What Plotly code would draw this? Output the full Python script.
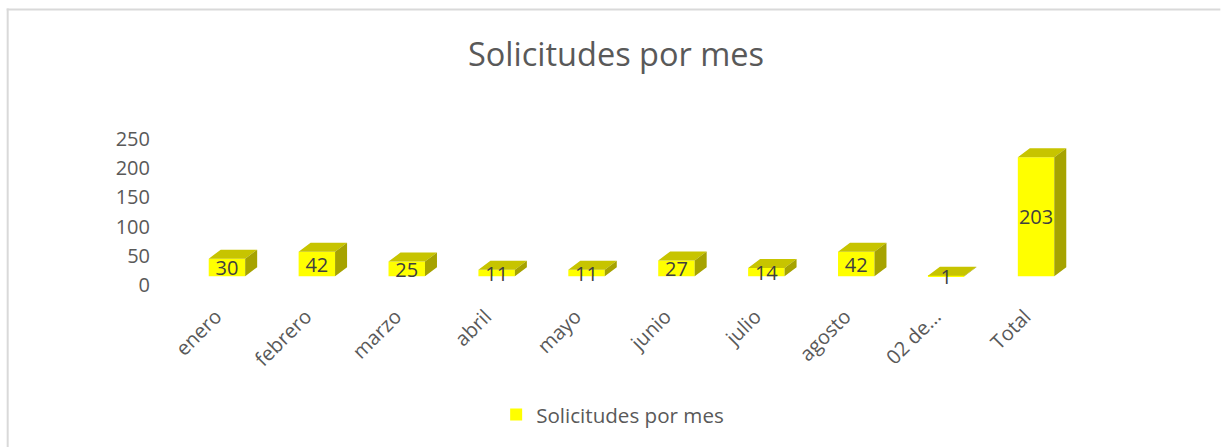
import plotly.graph_objects as go

months = ["enero", "febrero", "marzo", "abril", "mayo", "junio", "julio", "agosto", "02 de...", "Total"]
values = [30, 42, 25, 11, 11, 27, 14, 42, 1, 203]
y_ticks = [0, 50, 100, 150, 200, 250]
series_name = "Solicitudes por mes"

W, H = 1221, 447
PITCH = 90.0
PX_PER_UNIT = 0.584
PLOT_L = 181.5
PLOT_R = PLOT_L + PITCH * len(months)
Y_ZERO_PX = 285.0
Y_MIN, Y_MAX = -20, 260
PLOT_T = Y_ZERO_PX - Y_MAX * PX_PER_UNIT
PLOT_B = Y_ZERO_PX - Y_MIN * PX_PER_UNIT

BAR_W = 36.5 / PITCH
DX = 12 / PITCH
DY = 9 / PX_PER_UNIT
BASE = 9 / PX_PER_UNIT
LABEL_SHIFT = 11 / PITCH

FRONT = "#FFFF00"
TOP = "#C7C400"
SIDE = "#A6A300"
TEXT = "#595959"
LABEL = "#404040"
FONT = "Open Sans"

xs = list(range(len(months)))
fig = go.Figure()


def faces(kind):
    px, py = [], []
    for i, v in zip(xs, values):
        l, r = i - BAR_W / 2, i + BAR_W / 2
        t = BASE + v
        if kind == "top":
            px += [l, r, r + DX, l + DX, l, None]
            py += [t, t, t + DY, t + DY, t, None]
        else:
            px += [r, r, r + DX, r + DX, r, None]
            py += [BASE, t, t + DY, BASE + DY, BASE, None]
    return px, py


def fx(p):
    return (p - PLOT_L) / (PLOT_R - PLOT_L)


def fy(p):
    return (PLOT_B - p) / (PLOT_B - PLOT_T)


fig.add_trace(go.Bar(x=xs, y=values, base=[BASE] * len(values), width=BAR_W, name=series_name,
                     marker=dict(color=FRONT, line=dict(width=0)), showlegend=True, hoverinfo="skip"))
for kind, colour in (("top", TOP), ("side", SIDE)):
    px, py = faces(kind)
    fig.add_trace(go.Scatter(x=px, y=py, mode="lines", fill="toself", fillcolor=colour,
                             line=dict(width=0, color=colour), showlegend=False, hoverinfo="skip"))
fig.add_trace(go.Scatter(x=xs, y=[BASE + v / 2 - 4.5 for v in values], mode="text",
                         text=[str(v) for v in values], textposition="middle center",
                         textfont=dict(family=FONT, size=20, color=LABEL),
                         showlegend=False, hoverinfo="skip"))

fig.update_layout(
    width=W, height=H, autosize=False,
    margin=dict(l=PLOT_L, r=W - PLOT_R, t=PLOT_T, b=H - PLOT_B, pad=0, autoexpand=False),
    paper_bgcolor="white", plot_bgcolor="white",
    font=dict(family=FONT, color=TEXT, size=20),
    title=dict(text=series_name, x=616 / W, xanchor="center", y=1 - 55 / H, yanchor="middle",
               font=dict(family=FONT, size=32.5, color=TEXT)),
    xaxis=dict(range=[-0.5, len(months) - 0.5], tickvals=[x - LABEL_SHIFT for x in xs], ticktext=months,
               tickangle=-45, showgrid=False, zeroline=False, showline=False, ticks="",
               tickfont=dict(family=FONT, size=20, color=TEXT), ticklabelstandoff=3),
    yaxis=dict(range=[Y_MIN, Y_MAX], tickvals=y_ticks, showgrid=False, zeroline=False, showline=False,
               ticks="", tickfont=dict(family=FONT, size=20, color=TEXT), ticklabelstandoff=31),
    legend=dict(orientation="h", x=fx(496), xanchor="left", y=fy(394), yanchor="top",
                font=dict(family=FONT, size=20.6, color=TEXT), bgcolor="rgba(0,0,0,0)"),
    shapes=[
        dict(type="line", xref="paper", yref="paper", x0=fx(6), x1=fx(1221), y0=fy(10), y1=fy(10),
             line=dict(color="#D9D9D9", width=2), layer="below"),
        dict(type="line", xref="paper", yref="paper", x0=fx(7), x1=fx(7), y0=fy(9), y1=fy(447),
             line=dict(color="#D9D9D9", width=2), layer="below"),
    ],
)

fig.write_html("out.html", post_script="document.body.style.margin='0';", config={"displayModeBar": False})
